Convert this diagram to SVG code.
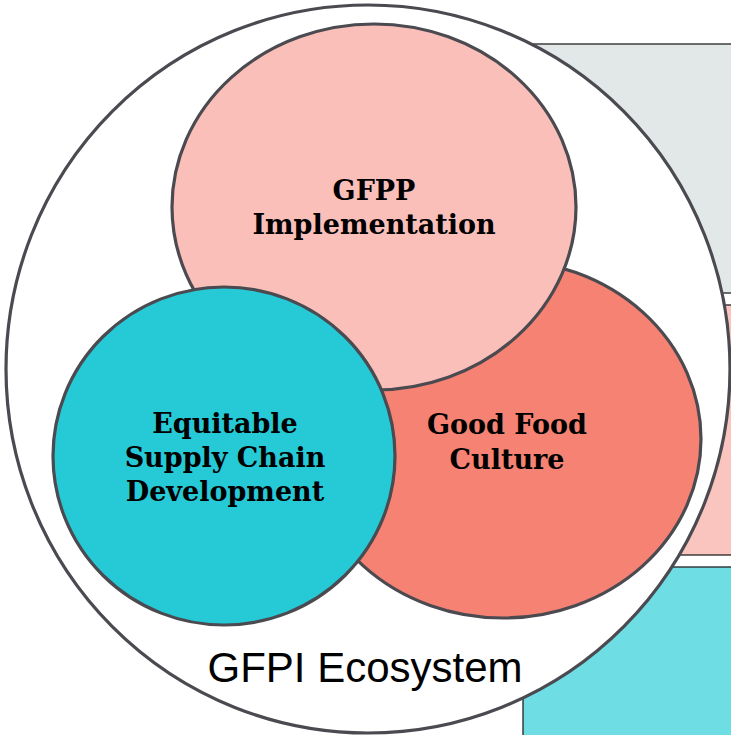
<svg xmlns="http://www.w3.org/2000/svg" width="731" height="735" viewBox="0 0 731 735">
<style>
.bg{stroke:#222;stroke-width:1.3}
.ring{stroke:#4A4A50;stroke-width:3.2}
.lbl{font-family:"DejaVu Serif","Liberation Serif",serif;font-weight:bold;font-size:27px;fill:#000;text-anchor:middle}
.eco{font-family:"Liberation Sans",Arial,sans-serif;font-size:42px;fill:#000;text-anchor:middle}
</style>
<rect width="731" height="735" fill="#fff"/>
<g id="background">
<rect class="bg" x="500" y="44" width="260" height="249" fill="#E2E8E8"/>
<rect class="bg" x="560" y="305" width="200" height="250" fill="#FAC4BF"/>
<rect class="bg" x="523" y="567" width="240" height="200" fill="#6FDDE4"/>
</g>
<g id="ecosystem">
<ellipse class="ring" cx="368" cy="369" rx="362" ry="364" fill="#fff"/>
<text class="eco" x="365" y="682">GFPI Ecosystem</text>
</g>
<g id="good-food-culture">
<ellipse class="ring" cx="503" cy="439" rx="198" ry="179" fill="#F58272"/>
<text class="lbl" x="507" y="434">Good Food</text>
<text class="lbl" x="507" y="469">Culture</text>
</g>
<g id="gfpp-implementation">
<ellipse class="ring" cx="374" cy="207" rx="202" ry="183" fill="#FBBFBA"/>
<text class="lbl" x="374" y="200">GFPP</text>
<text class="lbl" x="374" y="234">Implementation</text>
</g>
<g id="equitable-supply-chain">
<ellipse class="ring" cx="224" cy="456" rx="171" ry="169" fill="#26C9D6"/>
<text class="lbl" x="225" y="433">Equitable</text>
<text class="lbl" x="225" y="467">Supply Chain</text>
<text class="lbl" x="225" y="501">Development</text>
</g>
<g id="connectors"></g>
</svg>
